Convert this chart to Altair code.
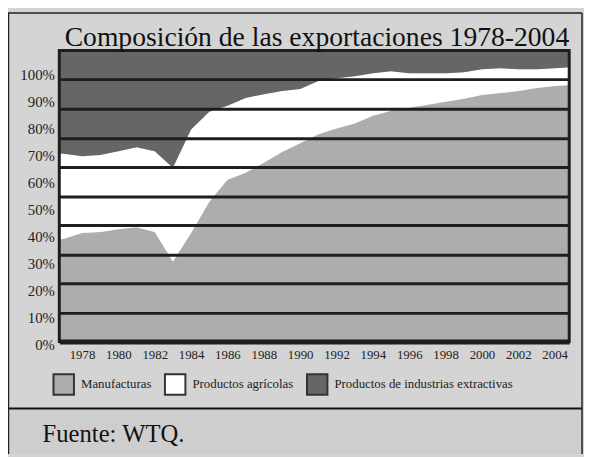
import altair as alt
import pandas as pd

# ---- data (shares in %) ----
anios = [1976, 1977, 1978, 1979, 1980, 1981, 1982, 1983, 1984, 1985, 1986, 1987,
         1988, 1989, 1990, 1991, 1992, 1993, 1994, 1995, 1996, 1997, 1998, 1999,
         2000, 2001, 2002, 2003, 2004, 2005]
manufacturas = [34.5, 35.3, 37.3, 37.6, 38.6, 39.3, 37.6, 27.5, 37.3, 48.0, 55.6, 58.0,
                61.4, 65.1, 68.1, 71.2, 73.2, 74.9, 77.6, 79.3, 80.3, 81.4, 82.4, 83.4,
                84.7, 85.4, 86.1, 87.1, 87.8, 88.2]
agricolas = [30.5, 29.2, 26.4, 26.5, 26.8, 27.5, 27.8, 32.2, 35.6, 31.0, 25.4, 25.7,
             23.6, 21.0, 18.7, 18.3, 17.3, 16.3, 14.6, 13.6, 11.9, 10.8, 9.8, 9.1,
             8.9, 8.5, 7.5, 6.5, 6.1, 6.1]
extractivas = [35.0, 35.5, 36.3, 35.9, 34.6, 33.2, 34.6, 40.3, 27.1, 21.0, 19.0, 16.3,
               15.0, 13.9, 13.2, 10.5, 9.5, 8.8, 7.8, 7.1, 7.8, 7.8, 7.8, 7.5,
               6.4, 6.1, 6.4, 6.4, 6.1, 5.7]

series = ["Manufacturas", "Productos agrícolas", "Productos de industrias extractivas"]
colores = ["#adadad", "#ffffff", "#666666"]
etiquetas_x = list(range(1978, 2005, 2))
etiquetas_y = [0, 10, 20, 30, 40, 50, 60, 70, 80, 90, 100]
lineas_y = [10, 20, 30, 40, 50, 60, 70, 80, 90]
titulo = "Composición de las exportaciones 1978-2004"
fuente = "Fuente: WTQ."

filas = []
for i, a in enumerate(anios):
    for k, (s, vals) in enumerate(zip(series, [manufacturas, agricolas, extractivas])):
        filas.append({"anio": a, "serie": s, "valor": vals[i], "orden": k})
df = pd.DataFrame(filas)

FONT = "Liberation Serif"
W, H = 517, 295

areas = alt.Chart(df).mark_area(clip=True, interpolate="linear").encode(
    x=alt.X("anio:Q",
            scale=alt.Scale(domain=[1976.75, 2004.8], nice=False, zero=False),
            axis=alt.Axis(values=etiquetas_x, format="d", title=None, grid=False,
                          ticks=False, tickSize=0, labelPadding=7, labelFontSize=13,
                          labelFont=FONT, labelColor="#222222", labelFlush=False,
                          domainColor="#1e1e1e", domainWidth=5, zindex=1)),
    y=alt.Y("valor:Q", stack="zero",
            scale=alt.Scale(domain=[0, 100], nice=False),
            axis=alt.Axis(values=lineas_y, labels=False, ticks=False, tickSize=0,
                          domain=False, grid=True, gridColor="#1e1e1e", gridWidth=3,
                          title=None, zindex=1)),
    color=alt.Color("serie:N",
                    scale=alt.Scale(domain=series, range=colores),
                    legend=alt.Legend(orient="none", legendX=-7, legendY=327,
                                      direction="horizontal", title=None,
                                      symbolType="square", symbolSize=430,
                                      symbolStrokeColor="#333333", symbolStrokeWidth=2,
                                      labelFont=FONT, labelFontSize=13,
                                      labelColor="#222222", labelOffset=6,
                                      columnPadding=9, padding=0, labelLimit=400)),
    order=alt.Order("orden:Q"),
)

borde = alt.Chart(pd.DataFrame({"k": [1]})).mark_rect(
    filled=False, stroke="#1e1e1e", strokeWidth=3).encode(
    x=alt.value(0), x2=alt.value(W), y=alt.value(0), y2=alt.value(H))

etiquetas = alt.Chart(pd.DataFrame({"v": etiquetas_y})).mark_point(opacity=0).encode(
    y=alt.Y("v:Q", scale=alt.Scale(domain=[0, 107.7], nice=False),
            axis=alt.Axis(orient="left", values=etiquetas_y,
                          labelExpr="datum.value + '%'", grid=False, ticks=False,
                          tickSize=0, domain=False, labelPadding=5, labelOffset=3,
                          labelFontSize=15, labelFont=FONT, labelColor="#222222",
                          labelFlush=False, title=None)))

tit = alt.Chart(pd.DataFrame({"t": [titulo]})).mark_text(
    align="right", baseline="alphabetic", font=FONT, fontSize=28, color="#111111").encode(
    text="t:N", x=alt.value(517), y=alt.value(-5))

pie_fondo = alt.Chart(pd.DataFrame({"k": [1]})).mark_rect(color="#cecece").encode(
    x=alt.value(-52), x2=alt.value(530), y=alt.value(363), y2=alt.value(409))

pie_linea = alt.Chart(pd.DataFrame({"k": [1]})).mark_rule(color="#111111", strokeWidth=2).encode(
    x=alt.value(-52), x2=alt.value(530), y=alt.value(363))

marco_sup = alt.Chart(pd.DataFrame({"k": [1]})).mark_rule(color="#222222", strokeWidth=1.5).encode(
    x=alt.value(-52), x2=alt.value(530), y=alt.value(-38))
marco_izq = alt.Chart(pd.DataFrame({"k": [1]})).mark_rule(color="#222222", strokeWidth=1.5).encode(
    x=alt.value(-51.5), y=alt.value(-38), y2=alt.value(409))
marco_der = alt.Chart(pd.DataFrame({"k": [1]})).mark_rule(color="#222222", strokeWidth=1.5).encode(
    x=alt.value(530), y=alt.value(-38), y2=alt.value(409))

pie = alt.Chart(pd.DataFrame({"t": [fuente]})).mark_text(
    align="left", baseline="alphabetic", font=FONT, fontSize=25, color="#111111").encode(
    text="t:N", x=alt.value(-17), y=alt.value(397))

chart = alt.layer(
    pie_fondo, areas, borde, etiquetas, tit, pie_linea, marco_sup, marco_izq, marco_der, pie
).resolve_scale(y="independent").properties(
    width=W, height=H,
    autosize=alt.AutoSizeParams(type="none"),
    padding={"left": 52, "top": 40, "right": 15, "bottom": 114},
).configure(background="#d4d4d4").configure_view(strokeWidth=0)

chart.save("out.html", embed_options={"renderer": "svg", "actions": False})
